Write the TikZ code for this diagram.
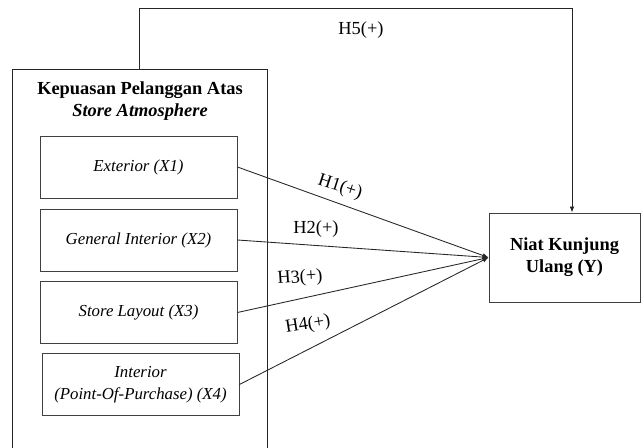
\documentclass[tikz,border=0pt]{standalone}
\usepackage{fontspec}
\setmainfont{Liberation Serif}
\usetikzlibrary{arrows.meta}

\tikzset{
  box/.style={draw=black!75, line width=0.65pt, align=center, inner sep=2pt},
  varbox/.style={box, minimum width=147.75pt, minimum height=46.5pt,
                 font=\fontsize{12.6}{16.5}\selectfont\itshape},
  ybox/.style={box, minimum width=113.25pt, minimum height=66.75pt,
               font=\fontsize{13.8}{16.5}\selectfont\bfseries},
  link/.style={draw=black!85, line width=0.65pt},
  arrow/.style={link, -{Latex[length=4.5pt,width=3.5pt]}},
  hyp/.style={font=\fontsize{13.8}{16}\selectfont, inner sep=0pt}
}

\begin{document}
\begin{tikzpicture}[x=0.75pt,y=-0.75pt]
  \useasboundingbox (0,0) rectangle (641,448);

  %Nodes
  \coordinate (Sl) at (12,449);
  \coordinate (Sr) at (267,449);
  \coordinate (S)  at (139,69);
  \coordinate (top) at (572,8);
  \node at (140,101) (title) [align=center, font=\fontsize{13.8}{16}\selectfont\bfseries]
        {Kepuasan Pelanggan Atas\\\textit{Store Atmosphere}};
  \node at (138.5,167)   (x1) [varbox] {Exterior (X1)};
  \node at (138.5,240)   (x2) [varbox] {General Interior (X2)};
  \node at (138.5,312.5) (x3) [varbox] {Store Layout (X3)};
  \node at (140.5,384.5) (x4) [varbox] {Interior\\(Point-Of-Purchase) (X4)};
  \node at (564.5,257.5) (y)  [ybox]   {Niat Kunjung\\Ulang (Y)};

  %Frame
  \draw[link] (Sl) |- (Sr |- S) -- (Sr);

  %Lines
  \draw[arrow] (x1.east) -- (y.west);
  \draw[arrow] (x2.east) -- (y.west);
  \draw[arrow] (x3.east) -- (y.west);
  \draw[arrow] (x4.east) -- (y.west);
  \draw[arrow] (S) |- (top) -- (top |- y.north);

  %Labels
  \node at (361,30)  (h5) [hyp] {H5(+)};
  \node at (340,187) (h1) [hyp, rotate=-18] {H1(+)};
  \node at (316,229) (h2) [hyp] {H2(+)};
  \node at (300,278) (h3) [hyp, rotate=4] {H3(+)};
  \node at (308,325) (h4) [hyp, rotate=9] {H4(+)};
\end{tikzpicture}
\end{document}
